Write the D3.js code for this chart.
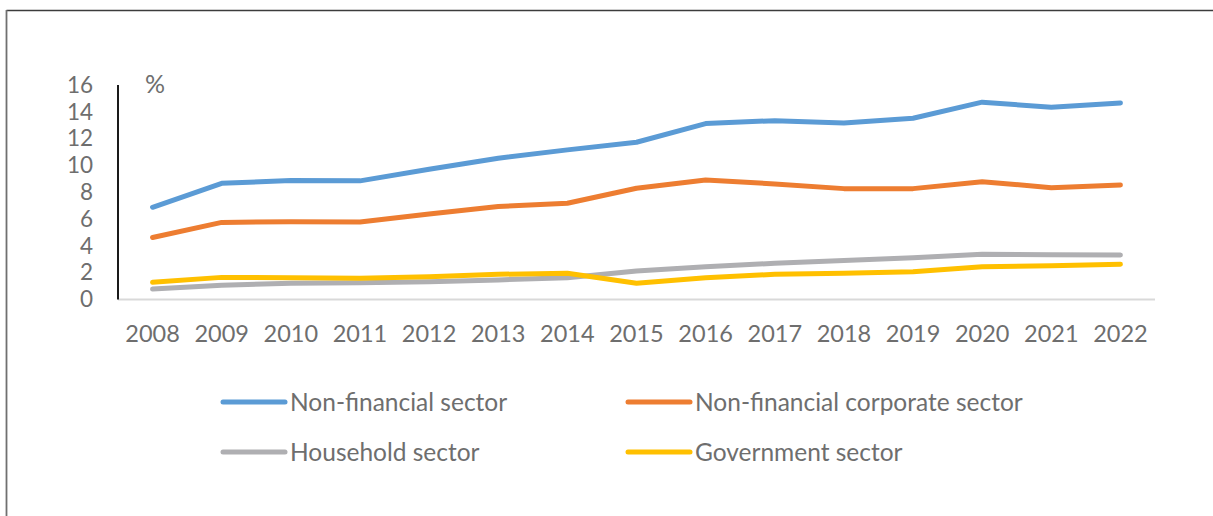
<!DOCTYPE html>
<html>
<head>
<meta charset="utf-8">
<script src="https://cdn.jsdelivr.net/npm/d3@7"></script>
<style>
  html, body { margin: 0; padding: 0; background: #fff; }
  svg { display: block; }
  text { font-family: Lato, "Open Sans", sans-serif; fill: #6e6e6e; }
</style>
</head>
<body>
<svg id="chart" width="1213" height="516"></svg>
<script>
// Years on the horizontal axis
const years = ["2008","2009","2010","2011","2012","2013","2014","2015","2016","2017","2018","2019","2020","2021","2022"];

// Debt ratios by sector (%)
const nonFinancial   = [6.88, 8.67, 8.87, 8.85, 9.72, 10.54, 11.16, 11.73, 13.12, 13.34, 13.17, 13.52, 14.72, 14.34, 14.66];
const nonFinCorporate = [4.62, 5.75, 5.80, 5.78, 6.38, 6.93, 7.18, 8.30, 8.92, 8.62, 8.27, 8.27, 8.79, 8.34, 8.54];
const household      = [0.78, 1.07, 1.21, 1.25, 1.33, 1.46, 1.63, 2.13, 2.45, 2.70, 2.90, 3.12, 3.37, 3.34, 3.32];
const government     = [1.28, 1.65, 1.62, 1.58, 1.70, 1.88, 1.96, 1.21, 1.63, 1.88, 1.96, 2.07, 2.45, 2.52, 2.63];

const yTicks = [0, 2, 4, 6, 8, 10, 12, 14, 16];

const seriesNames = ["Non-financial sector", "Non-financial corporate sector", "Household sector", "Government sector"];
const seriesColors = ["#5B9BD5", "#ED7D31", "#AFAFB2", "#FFC000"];
const seriesValues = [nonFinancial, nonFinCorporate, household, government];

const svg = d3.select("#chart");

// Outer frame (top and left edges show inside the canvas)
svg.append("line").attr("x1", 6.5).attr("y1", 10.5).attr("x2", 1213).attr("y2", 10.5)
  .attr("stroke", "#3c3c3c").attr("stroke-width", 1.4);
svg.append("line").attr("x1", 6.5).attr("y1", 10).attr("x2", 6.5).attr("y2", 516)
  .attr("stroke", "#707070").attr("stroke-width", 1.8);

const plot = { left: 118, right: 1155, top: 85, bottom: 299.5 };

const x = d3.scaleBand().domain(years).range([plot.left, plot.right]).padding(0);
const y = d3.scaleLinear().domain([0, 16]).range([plot.bottom, plot.top]);

// Horizontal category axis
svg.append("line")
  .attr("x1", plot.left).attr("x2", plot.right)
  .attr("y1", plot.bottom).attr("y2", plot.bottom)
  .attr("stroke", "#d9d9d9").attr("stroke-width", 2);

const xAxis = svg.append("g")
  .attr("transform", `translate(0,${plot.bottom})`)
  .call(d3.axisBottom(x).tickSize(0).tickPadding(0));
xAxis.select(".domain").remove();
xAxis.selectAll("text")
  .attr("y", 34).attr("dy", "0.35em")
  .style("font-size", "23.5px").style("fill", "#6e6e6e")
  .style("font-family", "Lato, 'Open Sans', sans-serif");

// Vertical value axis
const yAxis = svg.append("g")
  .attr("transform", `translate(${plot.left},0)`)
  .call(d3.axisLeft(y).tickValues(yTicks).tickSize(0).tickPadding(25).tickFormat(d3.format("d")));
yAxis.select(".domain").remove();
yAxis.selectAll("text")
  .style("font-size", "22.5px").style("fill", "#6e6e6e")
  .style("font-family", "Lato, 'Open Sans', sans-serif");
svg.append("line")
  .attr("x1", plot.left).attr("x2", plot.left)
  .attr("y1", plot.top).attr("y2", plot.bottom)
  .attr("stroke", "#1a1a1a").attr("stroke-width", 2);

svg.append("text").attr("x", 145).attr("y", 84).attr("dy", "0.35em")
  .style("font-size", "25px").text("%");

// Series lines
const line = d3.line()
  .x((d, i) => x(years[i]) + x.bandwidth() / 2)
  .y(d => y(d));

seriesValues.forEach((vals, k) => {
  svg.append("path")
    .datum(vals)
    .attr("d", line)
    .attr("fill", "none")
    .attr("stroke", seriesColors[k])
    .attr("stroke-width", 5)
    .attr("stroke-linecap", "round")
    .attr("stroke-linejoin", "round");
});

// Legend in two rows of two
const legendPos = [
  { x: 223, y: 402 }, { x: 628, y: 402 },
  { x: 223, y: 452 }, { x: 628, y: 452 }
];
seriesNames.forEach((name, k) => {
  const g = svg.append("g").attr("transform", `translate(${legendPos[k].x},${legendPos[k].y})`);
  g.append("line").attr("x1", 0).attr("x2", 62).attr("y1", 0).attr("y2", 0)
    .attr("stroke", seriesColors[k]).attr("stroke-width", 5).attr("stroke-linecap", "round");
  g.append("text").attr("x", 67).attr("y", 0).attr("dy", "0.35em")
    .style("font-size", "24.5px").text(name);
});
</script>
</body>
</html>
